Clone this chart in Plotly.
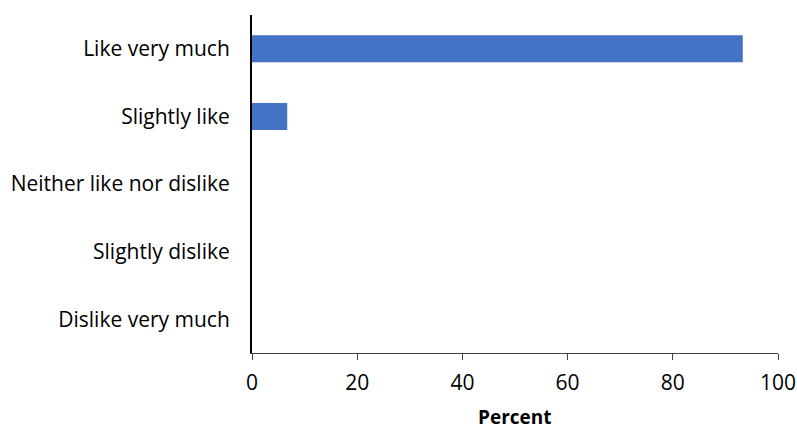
import plotly.graph_objects as go

# Response categories (top to bottom) and their shares in percent
categories = ["Like very much", "Slightly like", "Neither like nor dislike",
              "Slightly dislike", "Dislike very much"]
percent = [93.3, 6.7, 0, 0, 0]
x_ticks = [0, 20, 40, 60, 80, 100]

fig = go.Figure(go.Bar(
    x=percent,
    y=categories,
    orientation="h",
    width=0.4,
    marker=dict(color="#4472C4", line=dict(width=0)),
))

fig.update_layout(
    width=797, height=430,
    margin=dict(l=252, r=19, t=15, b=77),
    paper_bgcolor="white", plot_bgcolor="white",
    font=dict(family="Open Sans, sans-serif", size=21, color="#000000"),
    showlegend=False,
)
fig.update_xaxes(
    range=[0, 100], tickvals=x_ticks, automargin=False,
    showgrid=False, zeroline=False,
    showline=True, linecolor="#404040", linewidth=1,
    ticks="outside", ticklen=6, tickcolor="#404040",
    ticklabelstandoff=5,
)
fig.update_yaxes(
    categoryorder="array", categoryarray=categories[::-1], automargin=False,
    showgrid=False, zeroline=False,
    showline=True, linecolor="#000000", linewidth=2,
    ticks="", ticklabelstandoff=16,
)

# Axis title placed below the tick labels
fig.add_annotation(
    text="<b>Percent</b>", xref="paper", yref="paper",
    x=0.5, y=-0.188, xanchor="center", yanchor="middle",
    showarrow=False, font=dict(size=19),
)

fig.write_html("out.html")
